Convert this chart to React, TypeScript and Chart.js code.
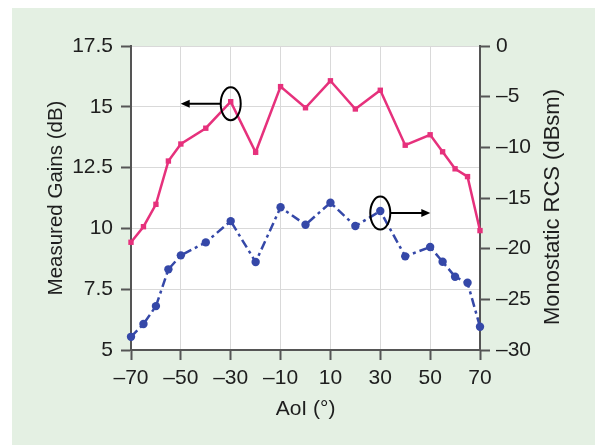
import React, { useEffect, useRef } from "react";
import { Chart, registerables } from "chart.js";

Chart.register(...registerables);

const angles = [-70, -65, -60, -55, -50, -40, -30, -20, -10, 0, 10, 20, 30, 40, 50, 55, 60, 65, 70];
const gains = [9.43, 10.07, 10.99, 12.77, 13.47, 14.12, 15.21, 13.13, 15.83, 14.96, 16.07, 14.91, 15.68, 13.42, 13.85, 13.15, 12.45, 12.13, 9.91];
const rcs = [-28.7, -27.44, -25.67, -22.04, -20.66, -19.38, -17.28, -21.32, -15.92, -17.64, -15.47, -17.77, -16.29, -20.76, -19.84, -21.29, -22.77, -23.37, -27.71];
const gainMarkedAngle = -30;
const rcsMarkedAngle = 30;
const rightTitle = "Monostatic RCS (dBsm)";

const FONT = "'Liberation Sans', Arial, Helvetica, sans-serif";
const PINK = "#e6317c";
const BLUE = "#3548a8";
const PANEL = "#e4f0e3";
const AXIS = "#555555";
const GRID = "#d9d9d9";
const TEXT = "#1e1e1e";

const dash = (v: number) => String(v).replace("-", "\u2013");

const bgPlugin = {
  id: "bg",
  beforeDraw(chart: any) {
    const { ctx, width, height, chartArea } = chart;
    ctx.save();
    ctx.fillStyle = "#ffffff";
    ctx.fillRect(0, 0, width, height);
    ctx.fillStyle = PANEL;
    ctx.fillRect(12, 8, width - 12, height - 8);
    ctx.fillStyle = "#ffffff";
    ctx.fillRect(chartArea.left, chartArea.top, chartArea.right - chartArea.left, chartArea.bottom - chartArea.top);
    ctx.restore();
  },
  afterDraw(chart: any) {
    const { ctx, chartArea } = chart;
    const s = chart.scales.y2;
    ctx.save();
    ctx.fillStyle = TEXT;
    ctx.font = `22px ${FONT}`;
    ctx.textAlign = "center";
    ctx.textBaseline = "middle";
    ctx.translate(s.right - 42, (chartArea.top + chartArea.bottom) / 2 + 9);
    ctx.rotate(-Math.PI / 2);
    ctx.fillText(rightTitle, 0, 0);
    ctx.restore();
  },
};

const markPlugin = {
  id: "marks",
  afterDatasetsDraw(chart: any) {
    const { ctx } = chart;
    const draw = (dsIndex: number, angle: number, dir: number) => {
      const idx = angles.indexOf(angle);
      const pt = chart.getDatasetMeta(dsIndex).data[idx];
      if (!pt) return;
      const cx = pt.x;
      const cy = pt.y + 2;
      ctx.save();
      ctx.strokeStyle = "#000";
      ctx.fillStyle = "#000";
      ctx.lineWidth = 2;
      ctx.beginPath();
      ctx.ellipse(cx, cy, 10, 16.5, 0, 0, Math.PI * 2);
      ctx.stroke();
      const x0 = cx + dir * 10;
      const x1 = cx + dir * 50;
      ctx.beginPath();
      ctx.moveTo(x0, cy);
      ctx.lineTo(x1 - dir * 6, cy);
      ctx.stroke();
      ctx.beginPath();
      ctx.moveTo(x1, cy);
      ctx.lineTo(x1 - dir * 9, cy - 4);
      ctx.lineTo(x1 - dir * 9, cy + 4);
      ctx.closePath();
      ctx.fill();
      ctx.restore();
    };
    draw(0, gainMarkedAngle, -1);
    draw(1, rcsMarkedAngle, 1);
  },
};

export default function App() {
  const ref = useRef<HTMLCanvasElement>(null);
  useEffect(() => {
    if (!ref.current) return;
    Chart.defaults.font.family = FONT;
    Chart.defaults.color = TEXT;
    const chart = new Chart(ref.current, {
      type: "line",
      data: {
        datasets: [
          {
            label: "Measured Gains",
            data: angles.map((a, i) => ({ x: a, y: gains[i] })),
            yAxisID: "y",
            borderColor: PINK,
            backgroundColor: PINK,
            borderWidth: 2.5,
            pointStyle: "rect",
            pointRadius: 3.8,
            pointBorderWidth: 0,
            tension: 0,
            clip: false as any,
          },
          {
            label: "Monostatic RCS",
            data: angles.map((a, i) => ({ x: a, y: rcs[i] })),
            yAxisID: "y2",
            borderColor: BLUE,
            backgroundColor: BLUE,
            borderWidth: 2.5,
            borderDash: [9, 4, 3, 4],
            pointStyle: "circle",
            pointRadius: 4.2,
            pointBorderWidth: 0,
            tension: 0,
            clip: false as any,
          },
        ],
      },
      options: {
        responsive: false,
        animation: false,
        events: [],
        layout: { padding: { top: 46, left: 0, right: 0, bottom: 0 } },
        plugins: { legend: { display: false }, tooltip: { enabled: false } },
        scales: {
          x: {
            type: "linear",
            min: -70,
            max: 70,
            ticks: { stepSize: 20, callback: (v: any) => dash(v), font: { size: 21 }, color: TEXT, padding: 6, maxRotation: 0 },
            grid: { color: GRID, lineWidth: 1, tickColor: AXIS, tickLength: 10, tickWidth: 2 },
            border: { color: AXIS, width: 2 },
            title: { display: true, text: "AoI (°)", font: { size: 21 }, color: TEXT, padding: { top: 0, bottom: 23 } },
            afterFit: (s: any) => { s.height = 95; },
          },
          y: {
            type: "linear",
            position: "left",
            min: 5,
            max: 17.5,
            ticks: { stepSize: 2.5, callback: (v: any) => String(v), font: { size: 21 }, color: TEXT, padding: 8 },
            grid: { color: GRID, lineWidth: 1, tickColor: AXIS, tickLength: 10, tickWidth: 2 },
            border: { color: AXIS, width: 2 },
            title: { display: true, text: "Measured Gains (dB)", font: { size: 20.5 }, color: TEXT, padding: { top: 44.5, bottom: 0 } },
            afterFit: (s: any) => { s.width = 131; },
          },
          y2: {
            type: "linear",
            position: "right",
            min: -30,
            max: 0,
            ticks: { stepSize: 5, callback: (v: any) => dash(v), font: { size: 21 }, color: TEXT, padding: 6 },
            grid: { drawOnChartArea: false, tickColor: AXIS, tickLength: 10, tickWidth: 2 },
            border: { color: AXIS, width: 2 },
            title: { display: false, text: rightTitle },
            afterFit: (s: any) => { s.width = 115; },
          },
        },
      },
      plugins: [bgPlugin, markPlugin],
    });
    return () => chart.destroy();
  }, []);
  return (
    <div style={{ position: "fixed", left: 0, top: 0, width: 595, height: 445 }}>
      <canvas ref={ref} width={595} height={445} style={{ display: "block", width: 595, height: 445 }} />
    </div>
  );
}
